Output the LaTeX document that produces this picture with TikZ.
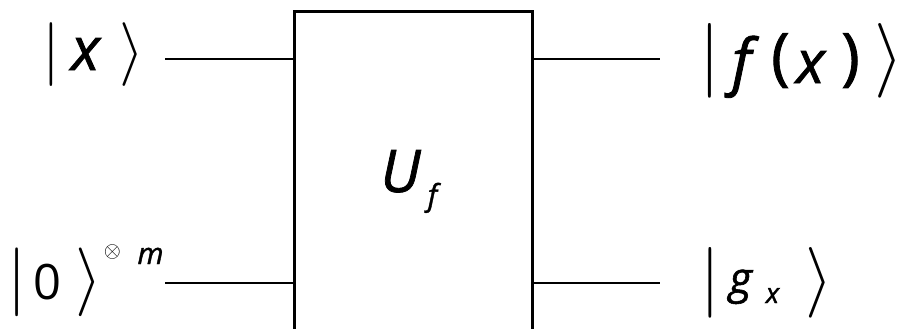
\documentclass[tikz,border=0pt]{standalone}
\usepackage{fontspec}
\usepackage{graphicx}
\newfontfamily\letters[FakeBold=1.3]{Open Sans}
\newfontfamily\digits{Open Sans}
\newcommand\at[3]{\hbox to 0pt{\hskip#1bp\relax\hbox to 0pt{\hss\raisebox{#2bp}{#3}\hss}\hss}}
\newcommand\vb[1]{\scalebox{\fpeval{#1/10}}{\fontsize{10}{12}\selectfont$|$}}
\newcommand\ra[1]{\scalebox{\fpeval{#1/10}}{\fontsize{10}{12}\selectfont$\rangle$}}
\newcommand\ot[1]{\scalebox{\fpeval{#1/10}}{\fontsize{10}{12}\selectfont$\otimes$}}
\newcommand\lt[2]{{\fontsize{#1}{#1}\selectfont\letters\itshape #2}}
\newcommand\up[2]{{\fontsize{#1}{#1}\selectfont\letters #2}}
\newcommand\dg[2]{{\fontsize{#1}{#1}\selectfont\digits #2}}
\begin{document}
\begin{tikzpicture}[x=1bp,y=-1bp,
  txt/.style={anchor=base west,inner sep=0pt,outer sep=0pt},
  wire/.style={line width=1.2bp},
  gate/.style={draw,line width=3bp,minimum width=238bp,minimum height=340bp,anchor=north,inner sep=0pt,outer sep=0pt}]
\useasboundingbox (0,0) rectangle (906,328);
\clip (0,0) rectangle (906,328);
\node[gate] (box) at (413,11.5) {};
\node[txt] (kx) at (0,70) {\at{51}{0}{\vb{64}}\at{85}{0}{\lt{60}{x}}\at{131}{0}{\ra{64}}};
\node[txt] (kf) at (0,83) {\at{709}{4}{\vb{75}}\at{741}{0}{\lt{62}{f}}\at{780}{5}{\up{63}{(}}\at{810}{0}{\lt{60}{x}}\at{850}{5}{\up{63}{)}}\at{889}{4}{\ra{75}}};
\node[txt] (k0) at (0,299) {\at{17}{0}{\vb{69}}\at{47}{0}{\dg{49}{0}}\at{88}{0}{\ra{69}}\at{112}{42}{\ot{22}}\at{150}{35}{\lt{30}{m}}};
\node[txt] (kg) at (0,300) {\at{710}{0}{\vb{71}}\at{740}{6.5}{\lt{44}{g}}\at{772}{-3}{\lt{28}{x}}\at{819}{0}{\ra{71}}};
\node[txt] (uf) at (0,192) {\at{400}{0}{\lt{59}{U}}\at{432}{-13.7}{\lt{30}{f}}};
\coordinate (in1) at (165,59);
\coordinate (out1) at (660,59);
\coordinate (in2) at (165,283);
\coordinate (out2) at (660,283);
\draw[wire] (in1) -- (in1 -| box.west);
\draw[wire] (box.east |- out1) -- (out1);
\draw[wire] (in2) -- (in2 -| box.west);
\draw[wire] (box.east |- out2) -- (out2);
\end{tikzpicture}
\end{document}
